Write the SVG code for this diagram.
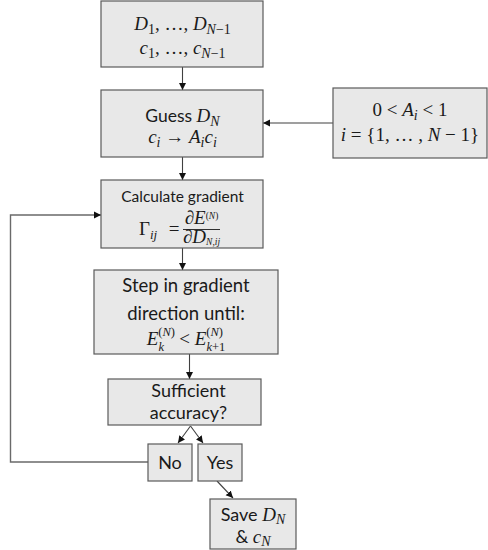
<svg xmlns="http://www.w3.org/2000/svg" width="488" height="550" viewBox="0 0 488 550">
<style>
.box{fill:#e8e8e8;stroke:#5a5a5a;stroke-width:1.2}
.t{font-family:Lato,"Liberation Sans",sans-serif;fill:#1a1a1a;text-anchor:middle}
.m{font-family:"Liberation Serif",serif;fill:#1a1a1a;text-anchor:middle;font-size:19px}
.i{font-style:italic}
.c{stroke:#404040;stroke-width:1.1;fill:none}
.loop{stroke:#6a6a6a;stroke-width:1.4;fill:none}
</style>
<defs>
<marker id="ah" markerWidth="8" markerHeight="8" refX="7" refY="4" orient="auto" markerUnits="userSpaceOnUse">
<path d="M0,0.5 L7,4 L0,7.5 Z" fill="#111"/>
</marker>
</defs>
<g id="connectors">
<line class="c" x1="182.5" y1="67" x2="182.5" y2="90" marker-end="url(#ah)"/>
<line class="c" x1="182.5" y1="157" x2="182.5" y2="180" marker-end="url(#ah)"/>
<line class="c" x1="182.5" y1="248" x2="182.5" y2="270" marker-end="url(#ah)"/>
<line class="c" x1="189.5" y1="354" x2="189.5" y2="379" marker-end="url(#ah)"/>
<line class="c" x1="333" y1="123" x2="263" y2="123" marker-end="url(#ah)"/>
<polyline class="loop" points="148,462 10.5,462 10.5,215 101,215" marker-end="url(#ah)"/>
<line class="c" x1="190.5" y1="426" x2="178" y2="443" marker-end="url(#ah)"/>
<line class="c" x1="190.5" y1="426" x2="203" y2="443" marker-end="url(#ah)"/>
<line class="c" x1="217" y1="481" x2="233" y2="498" marker-end="url(#ah)"/>
</g>
<g id="n1">
<rect class="box" x="101" y="1" width="162" height="66"/>
<text class="m" x="182.5" y="30"><tspan class="i">D</tspan><tspan font-size="14" dy="4">1</tspan><tspan dy="-4">, …, </tspan><tspan class="i">D</tspan><tspan font-size="14" dy="4"><tspan class="i">N</tspan>−1</tspan></text>
<text class="m" x="182.5" y="54"><tspan class="i">c</tspan><tspan font-size="14" dy="4">1</tspan><tspan dy="-4">, …, </tspan><tspan class="i">c</tspan><tspan font-size="14" dy="4"><tspan class="i">N</tspan>−1</tspan></text>
</g>
<g id="n2">
<rect class="box" x="101" y="90" width="162" height="67"/>
<text class="t" x="182.5" y="122" font-size="17.5">Guess <tspan class="i" font-family="Liberation Serif" font-size="19">D</tspan><tspan class="i" font-family="Liberation Serif" font-size="14" dy="4">N</tspan></text>
<text class="m" x="182.5" y="143" font-size="20"><tspan class="i">c</tspan><tspan class="i" font-size="14" dy="4">i</tspan><tspan dy="-4"> → </tspan><tspan class="i">A</tspan><tspan class="i" font-size="14" dy="4">i</tspan><tspan class="i" dy="-4">c</tspan><tspan class="i" font-size="14" dy="4">i</tspan></text>
</g>
<g id="n3">
<rect class="box" x="333" y="88" width="154" height="70"/>
<text class="m" x="410" y="116">0 &lt; <tspan class="i">A</tspan><tspan class="i" font-size="14" dy="4">i</tspan><tspan dy="-4"> &lt; 1</tspan></text>
<text class="m" x="410" y="141"><tspan class="i">i</tspan> = {1, … , <tspan class="i">N</tspan> − 1}</text>
</g>
<g id="n4">
<rect class="box" x="101" y="180" width="162" height="68"/>
<text class="t" x="182.5" y="201.5" font-size="15.5">Calculate gradient</text>
<text class="m" x="148" y="235">Γ<tspan class="i" font-size="13" dy="4">ij</tspan></text>
<text class="m" x="174" y="235">=</text>
<text class="m" x="201.5" y="224" font-size="12">∂<tspan class="i">E</tspan><tspan font-size="9.5" dy="-5">(<tspan class="i">N</tspan>)</tspan></text>
<line x1="183" y1="229.5" x2="220" y2="229.5" stroke="#1a1a1a" stroke-width="0.9"/>
<text class="m" x="201.5" y="243" font-size="12">∂<tspan class="i">D</tspan><tspan font-size="9.5" dy="1.5"><tspan class="i">N</tspan>,<tspan class="i">ij</tspan></tspan></text>
</g>
<g id="n5">
<rect class="box" x="94" y="270" width="184" height="84"/>
<text class="t" x="186" y="292" font-size="18.5">Step in gradient</text>
<text class="t" x="186" y="320" font-size="18.5">direction until:</text>
<text class="m" x="186" y="345" font-size="20"><tspan class="i">E</tspan><tspan font-size="12.5" dy="-9">(<tspan class="i">N</tspan>)</tspan><tspan font-size="12.5" dx="-16.5" dy="15" class="i">k</tspan><tspan dx="10.5" dy="-6"> &lt; </tspan><tspan class="i">E</tspan><tspan font-size="12.5" dy="-9">(<tspan class="i">N</tspan>)</tspan><tspan font-size="12.5" dx="-16.5" dy="15"><tspan class="i">k</tspan>+1</tspan></text>
</g>
<g id="n6">
<rect class="box" x="108" y="379" width="153" height="46"/>
<text class="t" x="188.5" y="397" font-size="18">Sufficient</text>
<text class="t" x="188.5" y="419" font-size="18">accuracy?</text>
</g>
<g id="n7">
<rect class="box" x="148" y="444" width="44" height="37"/>
<text class="t" x="170" y="469" font-size="18">No</text>
</g>
<g id="n8">
<rect class="box" x="198" y="444" width="44" height="37"/>
<text class="t" x="220" y="469" font-size="18">Yes</text>
</g>
<g id="n9">
<rect class="box" x="210" y="499" width="86" height="50"/>
<text class="t" x="253" y="521" font-size="18">Save <tspan class="i" font-family="Liberation Serif" font-size="19">D</tspan><tspan class="i" font-family="Liberation Serif" font-size="14" dy="3">N</tspan></text>
<text class="t" x="253" y="543" font-size="18">&amp; <tspan class="i" font-family="Liberation Serif" font-size="19">c</tspan><tspan class="i" font-family="Liberation Serif" font-size="14" dy="3">N</tspan></text>
</g>
</svg>
